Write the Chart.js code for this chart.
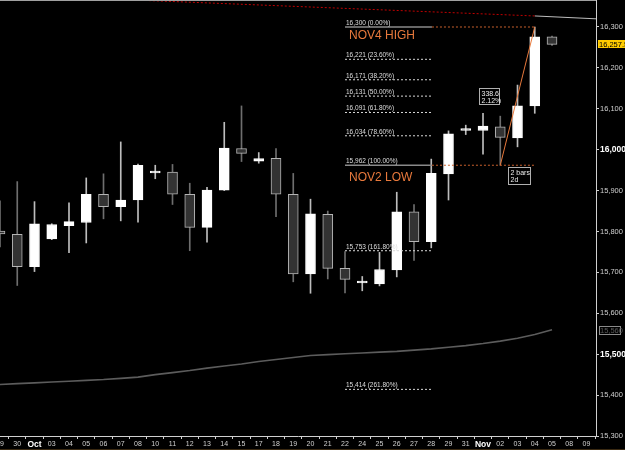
<!DOCTYPE html>
<html>
<head>
<meta charset="utf-8">
<script src="https://cdn.jsdelivr.net/npm/chart.js@4/dist/chart.umd.min.js"></script>
<style>
  html, body { margin: 0; padding: 0; background: #000; }
  #wrap { width: 625px; height: 450px; }
</style>
</head>
<body>
<div id="wrap"><canvas id="chart" width="625" height="450"></canvas></div>
<script>
'use strict';

// tick labels of the date axis (one per bar slot)
const dates = ['29', '30', 'Oct', '03', '04', '05', '06', '07', '08', '10', '11', '12', '13', '14', '15',
               '17', '18', '19', '20', '21', '22', '24', '25', '26', '27', '28', '29', '31', 'Nov',
               '02', '03', '04', '05', '08', '09'];

// daily candles
const opens  = [15801, 15793, 15714, 15782, 15814, 15822, 15891, 15861, 15877, 15943, 15945, 15891, 15810,
                15901, 16003, 15972, 15979, 15891, 15696, 15842, 15710, 15674, 15672, 15706, 15848, 15775,
                15941, 16047, 16047, 16056, 16029, 16107, 16276];
const highs  = [15875, 15922, 15873, 15819, 15870, 15931, 15941, 16019, 15965, 15962, 15964, 15918, 15908,
                16067, 16107, 15993, 16003, 15942, 15879, 15850, 15751, 15690, 15749, 15896, 15866, 15977,
                16046, 16060, 16089, 16082, 16158, 16300, 16278];
const lows   = [15762, 15668, 15702, 15780, 15748, 15772, 15831, 15826, 15823, 15929, 15866, 15753, 15774,
                15900, 15971, 15967, 15836, 15677, 15649, 15684, 15650, 15655, 15667, 15689, 15729, 15760,
                15877, 16037, 15989, 15962, 16007, 16089, 16255];
const closes = [15794, 15714, 15819, 15817, 15824, 15891, 15861, 15877, 15962, 15945, 15891, 15810, 15901,
                16004, 15991, 15978, 15891, 15696, 15843, 15710, 15683, 15676, 15707, 15848, 15775, 15942,
                16039, 16049, 16058, 16030, 16107, 16276, 16257.5];

// slow moving average
const maValues = [15426, 15428, 15430, 15432, 15434, 15436, 15438, 15441, 15444, 15450, 15455, 15460, 15466,
                  15471, 15476, 15482, 15487, 15492, 15497, 15499, 15501, 15503, 15505, 15507, 15510, 15513,
                  15517, 15521, 15526, 15532, 15539, 15548, 15560];

// fibonacci retracement Nov2 low -> Nov4 high
const fibLevels = [16300, 16221, 16171, 16131, 16091, 16034, 15962, 15753, 15414];
const fibPcts   = ['0.00%', '23.60%', '38.20%', '50.00%', '61.80%', '78.60%', '100.00%', '161.80%', '261.80%'];
const fibFrom = 20, fibTo = 25.04, fibExtTo = 31;

// trend line at the top
const trendX = [8.4, 31.0, 34.55];
const trendY = [16365, 16327, 16320];

const lastPrice = 16257.5;
const ORANGE = '#e8793c';

const wickData = [], bodyData = [], wickColors = [], bodyColors = [], bodyBorders = [];
for (let i = 0; i < opens.length; i++) {
    const up = closes[i] >= opens[i];
    wickData.push({x: i, y: [lows[i], highs[i]]});
    bodyData.push({x: i, y: [opens[i], closes[i]]});
    wickColors.push(up ? '#bdbdbd' : '#6e6e6e');
    bodyColors.push(up ? '#ffffff' : '#333333');
    bodyBorders.push(up ? '#ffffff' : '#b5b5b5');
}

function lineSet(points, color, dash, width, order) {
    return {
        type: 'line',
        data: points,
        borderColor: color,
        borderWidth: width,
        borderDash: dash,
        pointRadius: 0,
        tension: 0,
        fill: false,
        order: order
    };
}

const datasets = [];
datasets.push({
    type: 'bar', data: wickData, backgroundColor: wickColors, barThickness: 1,
    grouped: false, borderWidth: 0, order: 6
});
datasets.push({
    type: 'bar', data: bodyData, backgroundColor: bodyColors, borderColor: bodyBorders,
    borderWidth: 1, borderSkipped: false, barThickness: 10, minBarLength: 2, grouped: false, order: 5
});
datasets.push(lineSet(maValues.map((v, i) => ({x: i, y: v})), '#5c5c5c', [], 1.6, 3));
datasets.push(lineSet([{x: trendX[0], y: trendY[0]}, {x: trendX[1], y: trendY[1]}], '#c00000', [2, 2], 1, 2));
datasets.push(lineSet([{x: trendX[1], y: trendY[1]}, {x: trendX[2], y: trendY[2]}], '#bdbdbd', [], 1, 2));

fibLevels.forEach(function(lvl, k) {
    const anchor = (k === 0 || k === 6);
    datasets.push(lineSet([{x: fibFrom, y: lvl}, {x: fibTo, y: lvl}],
        anchor ? '#8a8a8a' : '#d8d8d8', anchor ? [] : [2, 2], anchor ? 1.5 : 1, 1));
    if (anchor) {
        datasets.push(lineSet([{x: fibTo, y: lvl}, {x: fibExtTo, y: lvl}], '#c8602c', [2, 2], 1, 1));
    }
});
datasets.push(lineSet([{x: 29, y: 15962}, {x: 31, y: 16300}], ORANGE, [], 1, 1));

function fmt(v) {
    return v.toLocaleString('en-US');
}

// no extra room for half-labels at the ends of the axes
function noPad(s) {
    s.paddingTop = 0;
    s.paddingBottom = 0;
    s.paddingLeft = 0;
    s.paddingRight = 0;
}

const overlay = {
    id: 'overlay',
    afterDraw(chart) {
        const ctx = chart.ctx;
        const xs = chart.scales.x, ys = chart.scales.y;
        const area = chart.chartArea;
        ctx.save();

        // frame top and bottom strip
        ctx.fillStyle = '#a0a0a0';
        ctx.fillRect(0, 0, area.right, 1);
        ctx.fillStyle = '#3b2a12';
        ctx.fillRect(0, 449, 625, 1);

        // fib labels
        ctx.font = '6.5px "Liberation Sans", Arial, sans-serif';
        ctx.fillStyle = '#dedede';
        ctx.textAlign = 'left';
        ctx.textBaseline = 'alphabetic';
        fibLevels.forEach(function(lvl, k) {
            ctx.fillText(fmt(lvl) + ' (' + fibPcts[k] + ')', xs.getPixelForValue(fibFrom) + 1,
                ys.getPixelForValue(lvl) - 2);
        });

        ctx.font = '12px "Liberation Sans", Arial, sans-serif';
        ctx.fillStyle = ORANGE;
        ctx.fillText('NOV4 HIGH', xs.getPixelForValue(fibFrom) + 4, ys.getPixelForValue(16300) + 12);
        ctx.fillText('NOV2 LOW', xs.getPixelForValue(fibFrom) + 4, ys.getPixelForValue(15962) + 16);

        // measurement boxes
        function box(xv, yv, w, h, lines) {
            const x = Math.round(xs.getPixelForValue(xv)) + 0.5;
            const y = Math.round(ys.getPixelForValue(yv)) + 0.5;
            ctx.fillStyle = '#000';
            ctx.fillRect(x, y, w, h);
            ctx.strokeStyle = '#b0b0b0';
            ctx.lineWidth = 1;
            ctx.strokeRect(x, y, w, h);
            ctx.fillStyle = '#ececec';
            ctx.font = '7px "Liberation Sans", Arial, sans-serif';
            ctx.textAlign = 'left';
            lines.forEach(function(t, j) {
                ctx.fillText(t, x + 2, y + 7 + j * 7.5);
            });
        }
        box(27.77, 16151, 20, 16, ['338.6', '2.12%']);
        box(29.45, 15958, 22, 17, ['2 bars', '2d']);

        // price tags on the axis
        let y = ys.getPixelForValue(lastPrice);
        ctx.fillStyle = '#ffcc00';
        ctx.fillRect(598, Math.round(y) - 4, 27, 8);
        ctx.fillStyle = '#000';
        ctx.font = '7.5px "Liberation Sans", Arial, sans-serif';
        ctx.textBaseline = 'middle';
        ctx.fillText(fmt(lastPrice), 599, Math.round(y) + 0.5);

        y = Math.round(ys.getPixelForValue(maValues[maValues.length - 1]));
        ctx.strokeStyle = '#8a8a8a';
        ctx.strokeRect(599.5, y - 3.5, 21, 8);
        ctx.fillStyle = '#5a5a5a';
        ctx.fillText(fmt(maValues[maValues.length - 1]), 600, y + 0.5);

        ctx.restore();
    }
};

new Chart(document.getElementById('chart'), {
    type: 'bar',
    data: {datasets: datasets},
    options: {
        responsive: false,
        animation: false,
        layout: {padding: 0},
        plugins: {legend: {display: false}, tooltip: {enabled: false}},
        scales: {
            x: {
                type: 'linear',
                min: 0,
                max: 34.55,
                offset: false,
                afterFit: function(s) { s.height = 14; noPad(s); },
                afterBuildTicks: function(s) {
                    s.ticks = dates.map((d, i) => ({value: i}));
                },
                grid: {drawOnChartArea: false, drawTicks: true, tickLength: 3, color: '#cfcfcf'},
                border: {display: true, color: '#cfcfcf'},
                ticks: {
                    autoSkip: false,
                    maxRotation: 0,
                    padding: 1,
                    color: function(c) {
                        const t = dates[c.tick.value];
                        return (t === 'Oct' || t === 'Nov') ? '#ffffff' : '#d0d0d0';
                    },
                    font: function(c) {
                        const t = dates[c.tick && c.tick.value];
                        return (t === 'Oct' || t === 'Nov')
                            ? {family: '"Liberation Sans", Arial, sans-serif', size: 8.5, weight: 'bold'}
                            : {family: '"Liberation Sans", Arial, sans-serif', size: 7};
                    },
                    callback: function(v) { return dates[v]; }
                }
            },
            y: {
                type: 'linear',
                position: 'right',
                min: 15300,
                max: 16366,
                afterFit: function(s) { s.width = 29; noPad(s); },
                afterBuildTicks: function(s) {
                    const t = [];
                    for (let v = 15300; v <= 16300; v += 100) t.push({value: v});
                    s.ticks = t;
                },
                grid: {drawOnChartArea: false, drawTicks: true, tickLength: 3, color: '#cfcfcf'},
                border: {display: true, color: '#cfcfcf'},
                ticks: {
                    padding: 1,
                    color: function(c) {
                        return (c.tick.value === 16000 || c.tick.value === 15500) ? '#ffffff' : '#cfcfcf';
                    },
                    font: function(c) {
                        const v = c.tick && c.tick.value;
                        return (v === 16000 || v === 15500)
                            ? {family: '"Liberation Sans", Arial, sans-serif', size: 8.5, weight: 'bold'}
                            : {family: '"Liberation Sans", Arial, sans-serif', size: 7.5};
                    },
                    callback: function(v) { return fmt(v); }
                }
            }
        }
    },
    plugins: [overlay]
});
</script>
</body>
</html>
